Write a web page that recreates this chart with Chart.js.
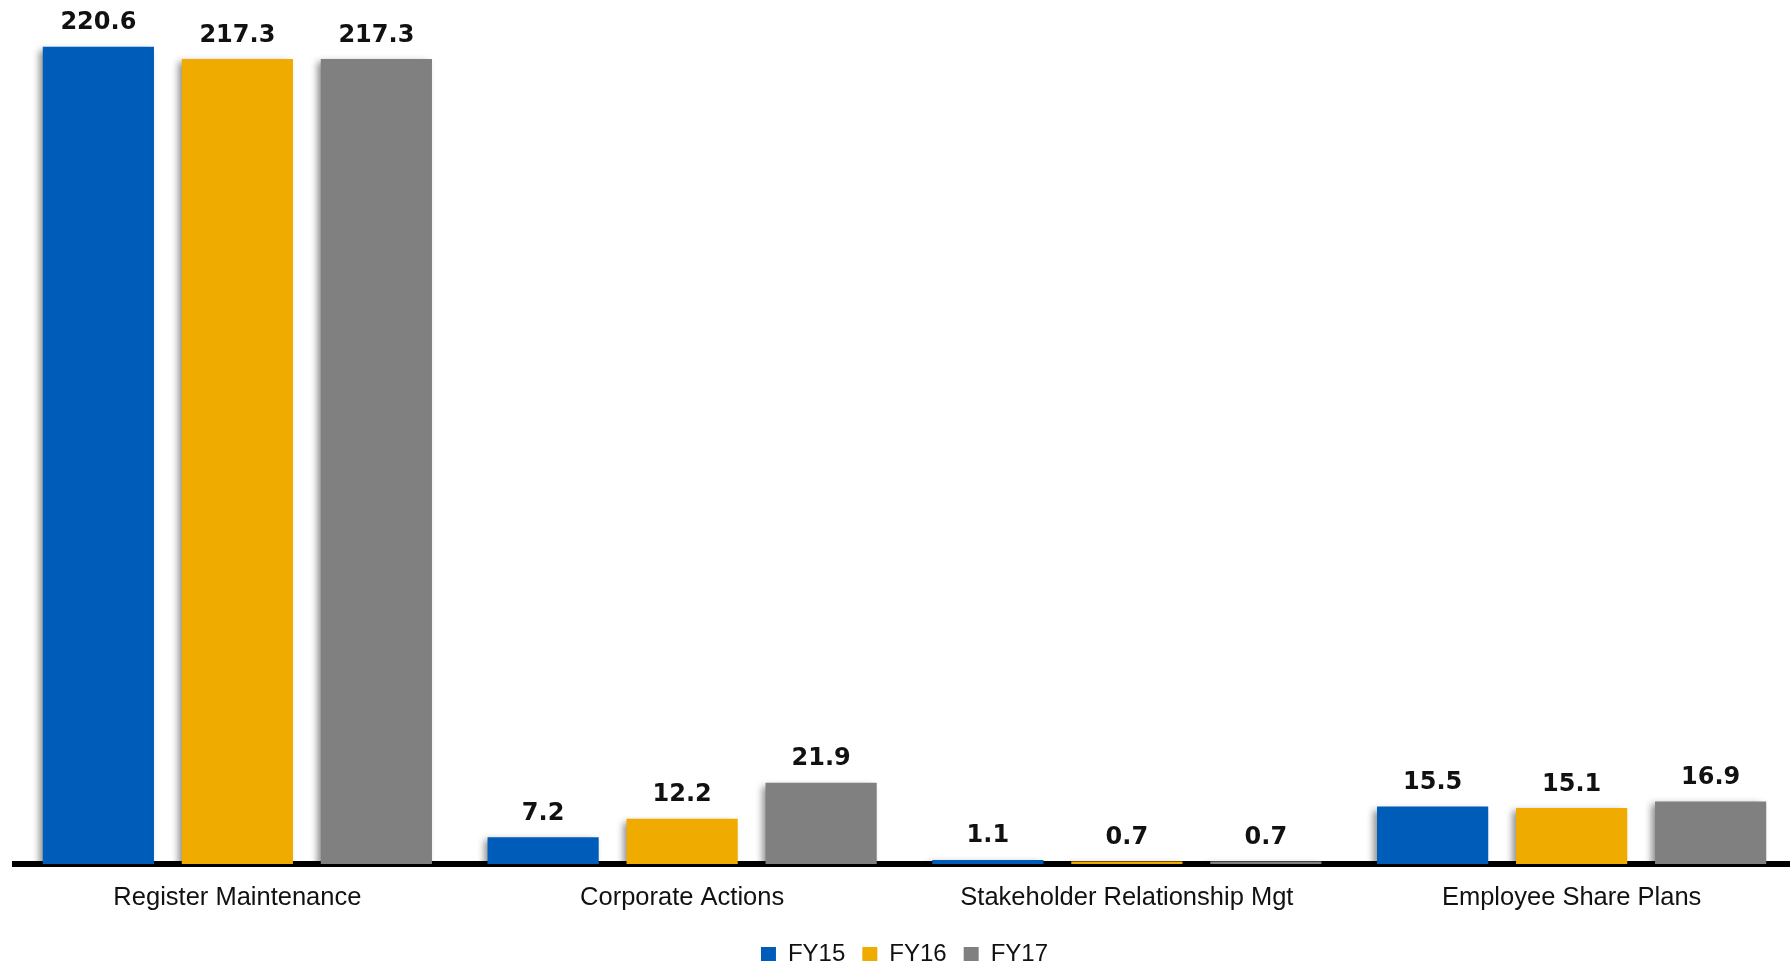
<!DOCTYPE html>
<html>
<head>
<meta charset="utf-8">
<title>Revenue by service line</title>
<script src="https://cdn.jsdelivr.net/npm/chart.js@4"></script>
<style>
  html, body { margin: 0; padding: 0; background: #fff; overflow: hidden; }
  #wrap { position: absolute; left: 0; top: 0; width: 1794px; height: 976px; }
</style>
</head>
<body>
<div id="wrap"><canvas id="chart"></canvas></div>
<script>
const categories = ['Register Maintenance', 'Corporate Actions', 'Stakeholder Relationship Mgt', 'Employee Share Plans'];
const seriesNames = ['FY15', 'FY16', 'FY17'];
const fy15 = [220.6, 7.2, 1.1, 15.5];
const fy16 = [217.3, 12.2, 0.7, 15.1];
const fy17 = [217.3, 21.9, 0.7, 16.9];
const colors = ['#005CB9', '#F0AB00', '#808080'];

// soft shadow on the left of each bar
const barShadow = {
  id: 'barShadow',
  beforeDatasetsDraw(chart) {
    const c = chart.ctx;
    c.save();
    c.shadowColor = 'rgba(0,0,0,0.45)';
    c.shadowBlur = 7;
    c.shadowOffsetX = -4;
    c.shadowOffsetY = 3;
  },
  afterDatasetsDraw(chart) {
    chart.ctx.restore();
  }
};

// value labels above the bars
const valueLabels = {
  id: 'valueLabels',
  afterDatasetsDraw(chart) {
    const c = chart.ctx;
    c.save();
    c.font = 'bold 24px "DejaVu Sans"';
    c.fillStyle = '#111';
    c.textAlign = 'center';
    c.textBaseline = 'alphabetic';
    chart.data.datasets.forEach((ds, i) => {
      chart.getDatasetMeta(i).data.forEach((bar, j) => {
        c.fillText(ds.data[j].toFixed(1), bar.x, bar.y - 17.5);
      });
    });
    c.restore();
  }
};

new Chart(document.getElementById('chart'), {
  type: 'bar',
  data: {
    labels: categories,
    datasets: [
      { label: seriesNames[0], data: fy15, backgroundColor: colors[0] },
      { label: seriesNames[1], data: fy16, backgroundColor: colors[1] },
      { label: seriesNames[2], data: fy17, backgroundColor: colors[2] }
    ]
  },
  options: {
    responsive: true,
    maintainAspectRatio: false,
    animation: false,
    datasets: {
      bar: { categoryPercentage: 0.9376, barPercentage: 0.8, borderWidth: 0 }
    },
    layout: { padding: { left: 15, right: 0, top: 12, bottom: 0 } },
    plugins: {
      legend: {
        position: 'bottom',
        labels: {
          boxWidth: 15,
          boxHeight: 14,
          padding: 17,
          color: '#111',
          font: { family: '"Liberation Sans", Arial, sans-serif', size: 24 }
        }
      },
      tooltip: { enabled: false }
    },
    scales: {
      x: {
        z: 1,
        grid: { display: false, drawTicks: false },
        border: { display: true, color: '#000', width: 6 },
        ticks: {
          padding: 18.6,
          color: '#111',
          font: { family: '"Liberation Sans", Arial, sans-serif', size: 25.5 }
        },
        afterFit(scale) { scale.height = 61; }
      },
      y: {
        display: false,
        min: 0,
        max: 230
      }
    }
  },
  plugins: [barShadow, valueLabels]
});
</script>
</body>
</html>
